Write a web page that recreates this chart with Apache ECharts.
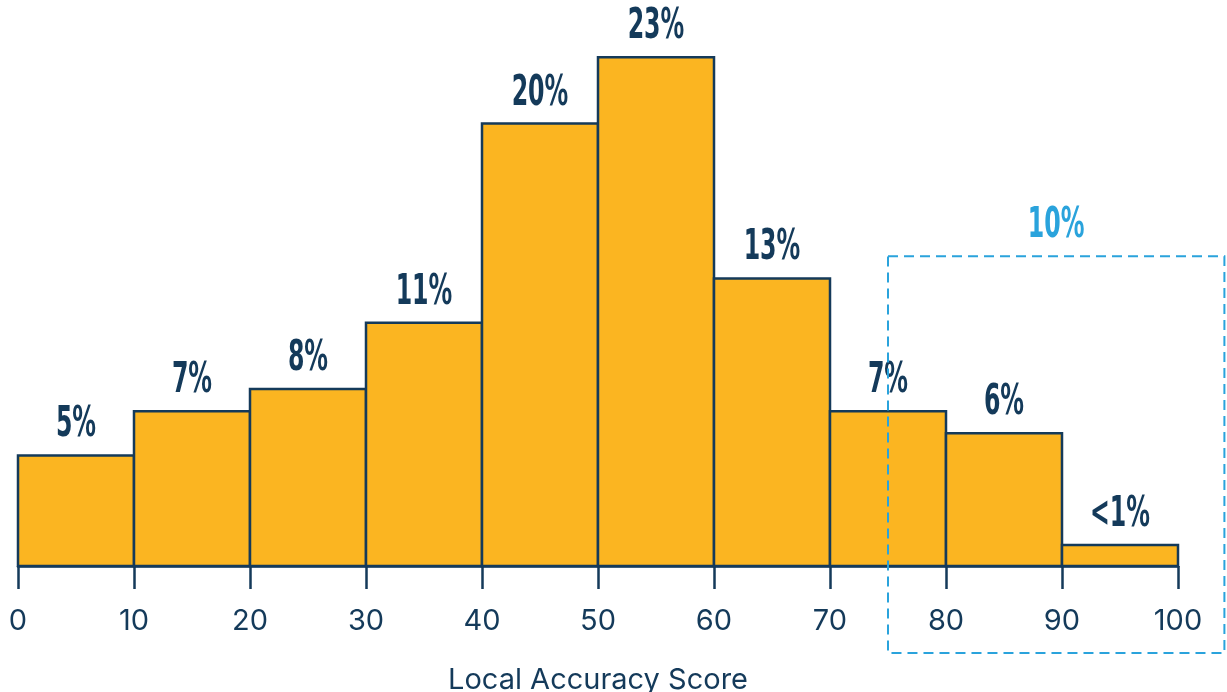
<!DOCTYPE html>
<html>
<head>
<meta charset="utf-8">
<script src="https://cdn.jsdelivr.net/npm/echarts@6/dist/echarts.min.js"></script>
<style>
  html, body { margin: 0; padding: 0; background: #ffffff; }
  #chart { width: 1227px; height: 692px; }
</style>
</head>
<body>
<div id="chart"></div>
<script>
// Histogram bins: lower and upper edge of each score band
const binStart = [0, 10, 20, 30, 40, 50, 60, 70, 80, 90];
const binEnd   = [10, 20, 30, 40, 50, 60, 70, 80, 90, 100];
// Share of records in each band (percent)
const shares   = [5, 7, 8, 11, 20, 23, 13, 7, 6, 0.95];
const shareLabels = ['5%', '7%', '8%', '11%', '20%', '23%', '13%', '7%', '6%', '<1%'];
// Highlighted high-score range and its combined share
const highlightRange = [75, 104];
const highlightTop = 14;
const highlightLabel = '10%';

const NAVY = '#143a5a';
const GOLD = '#fbb521';
const BLUE = '#2aa3dc';
const LABEL_FONT = 'bold 31px "Liberation Sans Narrow", "DejaVu Sans Condensed", sans-serif';

const histData = binStart.map((s, i) => [s, binEnd[i], shares[i]]);

const chart = echarts.init(document.getElementById('chart'), null, { renderer: 'canvas' });

chart.setOption({
  animation: false,
  backgroundColor: '#ffffff',
  grid: { left: 18, right: 49, top: 13, bottom: 126, containLabel: false, outerBoundsMode: 'none' },
  xAxis: {
    type: 'value',
    min: 0,
    max: 100,
    interval: 10,
    name: 'Local Accuracy Score',
    nameLocation: 'middle',
    nameGap: 100,
    nameTextStyle: { color: NAVY, fontFamily: 'Inter', fontSize: 29 },
    axisLine: { show: true, lineStyle: { color: NAVY, width: 2.5 } },
    axisTick: { show: true, length: 23, lineStyle: { color: NAVY, width: 2.5 } },
    axisLabel: { color: NAVY, fontFamily: 'Inter', fontSize: 29, margin: 41 },
    splitLine: { show: false }
  },
  yAxis: {
    type: 'value',
    min: 0,
    max: 25,
    show: false
  },
  series: [{
    type: 'custom',
    data: histData,
    z: 2,
    renderItem: function (params, api) {
      const p0 = api.coord([api.value(0), 0]);
      const p1 = api.coord([api.value(1), api.value(2)]);
      return {
        type: 'group',
        children: [{
          type: 'rect',
          shape: { x: p0[0], y: p1[1], width: p1[0] - p0[0], height: p0[1] - p1[1] },
          style: { fill: GOLD, stroke: NAVY, lineWidth: 2.5 }
        }, {
          type: 'text',
          x: (p0[0] + p1[0]) / 2,
          y: p1[1] - 9,
          scaleX: 0.85,
          scaleY: 1.35,
          style: {
            text: shareLabels[params.dataIndex],
            fill: NAVY,
            font: LABEL_FONT,
            align: 'center',
            verticalAlign: 'bottom'
          }
        }]
      };
    }
  }]
});

// Dashed outline around the high-score range, positioned through the axes
function drawHighlight() {
  const tl = chart.convertToPixel({ gridIndex: 0 }, [highlightRange[0], highlightTop]);
  const br = chart.convertToPixel({ gridIndex: 0 }, [highlightRange[1], 0]);
  const bottom = br[1] + 87;
  chart.setOption({
    graphic: [{
      type: 'rect',
      z: 100,
      shape: { x: tl[0], y: tl[1], width: br[0] - tl[0], height: bottom - tl[1] },
      style: { fill: 'none', stroke: BLUE, lineWidth: 2, lineDash: [10, 6] }
    }, {
      type: 'text',
      z: 100,
      x: (tl[0] + br[0]) / 2,
      y: tl[1] - 9,
      scaleX: 0.85,
      scaleY: 1.35,
      style: {
        text: highlightLabel,
        fill: BLUE,
        font: LABEL_FONT,
        align: 'center',
        verticalAlign: 'bottom'
      }
    }]
  });
}
drawHighlight();
</script>
</body>
</html>
